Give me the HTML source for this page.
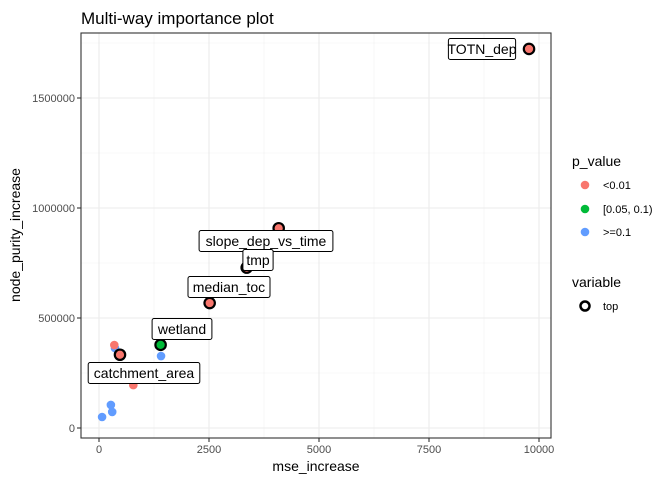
<!DOCTYPE html>
<html><head><meta charset="utf-8"><style>
body{margin:0;background:#fff;font-family:"Liberation Sans",Arial,sans-serif}
svg text{font-family:"Liberation Sans",Arial,sans-serif}
</style></head><body>
<svg id="c" width="672" height="480" viewBox="0 0 672 480" xmlns="http://www.w3.org/2000/svg">
<text x="81" y="24" font-size="17" fill="#000">Multi-way importance plot</text>
<g id="grid"></g>
<g id="axes"></g>
<g id="pts"></g>
<g id="lbls"></g>
<rect x="81" y="33" width="470" height="405" fill="none" stroke="#333" stroke-width="1.1"/>
<text x="316" y="471" font-size="14" text-anchor="middle">mse_increase</text>
<text transform="translate(20,235) rotate(-90)" font-size="14" text-anchor="middle">node_purity_increase</text>
<g>
<text x="572" y="166" font-size="14">p_value</text>
<circle cx="585" cy="185" r="4.3" fill="#F8766D"/>
<text x="603" y="189" font-size="11">&lt;0.01</text>
<circle cx="585" cy="209" r="4.3" fill="#00BA38"/>
<text x="603" y="213" font-size="11">[0.05, 0.1)</text>
<circle cx="585" cy="232" r="4.3" fill="#619CFF"/>
<text x="603" y="236" font-size="11">&gt;=0.1</text>
<text x="572" y="287" font-size="14">variable</text>
<circle cx="585" cy="306" r="4.5" fill="none" stroke="#000" stroke-width="2.5"/>
<text x="603" y="310" font-size="11">top</text>
</g>
</svg>
<script>
const xTicks=[0,2500,5000,7500,10000];
const yTicks=[0,500000,1000000,1500000];
const names=["TOTN_dep","slope_dep_vs_time","tmp","median_toc","wetland","catchment_area","","","","","","",""];
const mse=[9773,4084,3357,2515,1400,477,348,364,1410,780,270,300,70];
const purity=[1723000,908000,729000,568000,378000,333000,377000,363000,327000,195000,105000,73000,50000];
const pval=["r","r","r","r","g","r","r","b","b","r","b","b","b"];
const labelPos=[[482,49],[266,241],[258,260],[229,287],[182,329],[144,373]];
const X=v=>99+v*0.044, Y=v=>428-v*0.00022;
const ns="http://www.w3.org/2000/svg";
function mk(t,a,p){const e=document.createElementNS(ns,t);for(const k in a)e.setAttribute(k,a[k]);document.getElementById(p).appendChild(e);return e;}
const col={r:"#F8766D",g:"#00BA38",b:"#619CFF"};
for(let i=0;i<xTicks.length-1;i++){const g=mk("line",{x1:X((xTicks[i]+xTicks[i+1])/2),x2:X((xTicks[i]+xTicks[i+1])/2),y1:33,y2:438,stroke:"#f2f2f2","stroke-width":0.6},"grid");

}
for(let i=0;i<yTicks.length;i++){const yv=yTicks[i]+250000;const g=mk("line",{x1:81,x2:551,y1:Y(yv),y2:Y(yv),stroke:"#f2f2f2","stroke-width":0.6},"grid");

}
xTicks.forEach(t=>{const g=mk("line",{x1:X(t),x2:X(t),y1:33,y2:438,stroke:"#ebebeb","stroke-width":1.1},"grid");


const k=mk("line",{x1:X(t),x2:X(t),y1:438,y2:442,stroke:"#333","stroke-width":1.1},"axes");


const l=mk("text",{x:X(t),y:453,"font-size":11,fill:"#4d4d4d","text-anchor":"middle"},"axes");l.textContent=t;

});
yTicks.forEach(t=>{const g=mk("line",{x1:81,x2:551,y1:Y(t),y2:Y(t),stroke:"#ebebeb","stroke-width":1.1},"grid");


const k=mk("line",{x1:77,x2:81,y1:Y(t),y2:Y(t),stroke:"#333","stroke-width":1.1},"axes");


const l=mk("text",{x:75,y:Y(t)+4,"font-size":11,fill:"#4d4d4d","text-anchor":"end"},"axes");l.textContent=t;

});
for(let i=mse.length-1;i>=0;i--){const top=names[i]!=="";
const c=mk("circle",{cx:X(mse[i]),cy:Y(purity[i]),r:top?5.2:4.3,fill:col[pval[i]],stroke:top?"#000":"none","stroke-width":2.2},"pts");

}
labelPos.forEach((p,i)=>{const n=names[i];const w=n.length*7.4+8;
const r=mk("rect",{x:p[0]-w/2,y:p[1]-10.5,width:w,height:21,rx:2,fill:"#fff",stroke:"#000","stroke-width":1},"lbls");


const t=mk("text",{x:p[0],y:p[1]+5,"font-size":14,"text-anchor":"middle"},"lbls");t.textContent=n;

});
</script>
</body></html>
